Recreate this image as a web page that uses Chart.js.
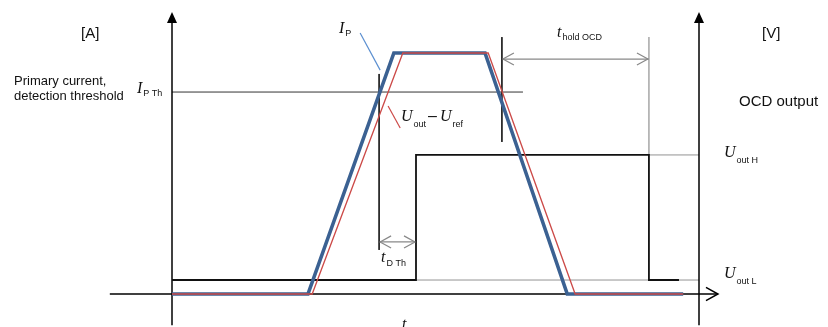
<!DOCTYPE html>
<html>
<head>
<meta charset="utf-8">
<script src="https://cdn.jsdelivr.net/npm/chart.js@4.4.0/dist/chart.umd.min.js"></script>
<style>
  html, body { margin: 0; padding: 0; background: #fff; overflow: hidden; }
  #wrap { width: 828px; height: 327px; }
</style>
</head>
<body>
<div id="wrap"><canvas id="grafica"></canvas></div>
<script>
// time: left axis = 0, right axis = 10 ; amplitude: time axis = 0, I_P peak = 10
const ipTime   = [0, 2.58, 4.21, 5.94, 7.50, 9.70];
const ipValue  = [0, 0, 10, 10, 0, 0];
const uTime    = [0, 2.66, 4.38, 6.00, 7.65, 9.70];
const uValue   = [0, 0, 10, 10, 0, 0];
const ocdTime  = [0, 4.63, 4.63, 9.05, 9.05, 9.62];
const ocdValue = [0.58, 0.58, 5.77, 5.77, 0.58, 0.58];

// characteristic levels / instants
const thresholdLevel = 8.38;   // I_P Th
const outHigh = 5.77;          // U_out H
const outLow = 0.58;           // U_out L
const tThUp = 3.93;            // I_P crosses threshold (rising)
const tThDown = 6.26;          // I_P crosses threshold (falling)
const tSwitch = 4.63;          // OCD output goes high
const tHoldEnd = 9.05;         // OCD output returns low
const tEnd = 10;               // right axis

// se arma la lista de puntos {x, y}
function puntos(xs, ys) {
  return xs.map((x, i) => ({ x: x, y: ys[i] }));
}
function segmento(x1, y1, x2, y2, color, ancho, orden) {
  return {
    data: [{ x: x1, y: y1 }, { x: x2, y: y2 }],
    borderColor: color, borderWidth: ancho, pointRadius: 0,
    order: orden, clip: false
  };
}

const datasets = [
  { data: puntos(uTime, uValue), borderColor: '#cc4a48', borderWidth: 1.3, pointRadius: 0, order: 0, borderJoinStyle: 'miter' },
  { data: puntos(ipTime, ipValue), borderColor: '#3b6192', borderWidth: 3.6, pointRadius: 0, order: 1, borderJoinStyle: 'miter' },
  { data: puntos(ocdTime, ocdValue), borderColor: '#111', borderWidth: 1.8, pointRadius: 0, order: 2, borderJoinStyle: 'miter' },
  // axes
  segmento(0, -1.3, 0, 11.3, '#000', 1.5, 3),
  segmento(tEnd, -1.3, tEnd, 11.3, '#000', 1.5, 3),
  segmento(-1.18, 0, 10.36, 0, '#000', 1.5, 3),
  // guides
  segmento(0, thresholdLevel, 6.66, thresholdLevel, '#333', 1, 4),
  segmento(tThUp, 9.13, tThUp, 1.83, '#222', 1, 4),
  segmento(tThDown, 10.66, tThDown, 6.31, '#222', 1, 4),
  segmento(tHoldEnd, 10.66, tHoldEnd, outHigh, '#999', 1.3, 4),
  segmento(tHoldEnd, outHigh, tEnd, outHigh, '#777', 0.8, 4),
  segmento(tSwitch, outLow, tEnd, outLow, '#777', 0.8, 4),
  segmento(tThDown, 9.75, tHoldEnd, 9.75, '#888', 1.2, 4),
  segmento(tThUp, 2.16, tSwitch, 2.16, '#888', 1.2, 4),
  // leaders
  segmento(3.57, 10.83, 3.95, 9.29, '#5b8fd0', 1.2, 4),
  segmento(4.10, 7.80, 4.33, 6.89, '#cc4a48', 1.2, 4)
];

// texto con subíndices
function textoRico(ctx, x, y, partes) {
  let cx = x;
  partes.forEach(p => {
    ctx.font = p[1];
    ctx.fillText(p[0], cx, y + (p[2] || 0));
    cx += ctx.measureText(p[0]).width + (p[3] || 0);
  });
}

const ITAL = "italic 16px 'Liberation Serif'";
const SUB = "9px 'Liberation Sans'";
const LAB = "15px 'Liberation Sans'";

const decoraciones = {
  id: 'decoraciones',
  afterDatasetsDraw(chart) {
    const ctx = chart.ctx;
    const sx = chart.scales.x, sy = chart.scales.y;
    const px = v => sx.getPixelForValue(v);
    const py = v => sy.getPixelForValue(v);
    ctx.save();

    // flechas rellenas de los ejes verticales
    ctx.fillStyle = '#000';
    [0, tEnd].forEach(t => {
      const x = px(t), y = py(11.7);
      ctx.beginPath();
      ctx.moveTo(x, y);
      ctx.lineTo(x - 5, y + 11);
      ctx.lineTo(x + 5, y + 11);
      ctx.closePath();
      ctx.fill();
    });

    // flechas abiertas
    function chevron(x, y, dir, size, color, width) {
      ctx.strokeStyle = color;
      ctx.lineWidth = width;
      ctx.beginPath();
      ctx.moveTo(x - dir * size, y - size * 0.55);
      ctx.lineTo(x, y);
      ctx.lineTo(x - dir * size, y + size * 0.55);
      ctx.stroke();
    }
    chevron(px(10.36), py(0), 1, 12, '#000', 1.5);
    chevron(px(tThDown) + 1, py(9.75), -1, 11, '#888', 1.2);
    chevron(px(tHoldEnd) - 1, py(9.75), 1, 11, '#888', 1.2);
    chevron(px(tThUp) + 1, py(2.16), -1, 11, '#888', 1.2);
    chevron(px(tSwitch) - 1, py(2.16), 1, 11, '#888', 1.2);

    // textos
    ctx.fillStyle = '#111';
    ctx.textBaseline = 'alphabetic';
    ctx.font = LAB;
    ctx.fillText('[A]', 81, 38);
    ctx.fillText('[V]', 762, 38);
    ctx.fillText('OCD output', 739, 106);
    ctx.font = "13px 'Liberation Sans'";
    ctx.fillText('Primary current,', 14, 85);
    ctx.fillText('detection threshold', 14, 100);

    textoRico(ctx, 137, 93, [['I', ITAL, 0, 1], ['P Th', SUB, 3]]);
    textoRico(ctx, 339, 33, [['I', ITAL, 0, 1], ['P', SUB, 3]]);
    textoRico(ctx, 401, 121, [['U', ITAL, 0, 1], ['out', SUB, 6, 2], ['\u2013', "16px 'Liberation Sans'", 0, 3], ['U', ITAL, 0, 1], ['ref', SUB, 6]]);
    textoRico(ctx, 557, 37, [['t', ITAL, 0, 1], ['hold OCD', SUB, 3]]);
    textoRico(ctx, 724, 157, [['U', ITAL, 0, 1], ['out H', SUB, 6]]);
    textoRico(ctx, 724, 278, [['U', ITAL, 0, 1], ['out L', SUB, 6]]);
    textoRico(ctx, 381, 262, [['t', ITAL, 0, 1], ['D Th', SUB, 4]]);
    textoRico(ctx, 402, 329, [['t', ITAL, 0]]);

    ctx.restore();
  }
};

// rango de escalas: 52.7 px por unidad de tiempo, 24.1 px por unidad de amplitud
const X_MIN = -172 / 52.7, X_MAX = (828 - 172) / 52.7;
const Y_MIN = -(327 - 294) / 24.1, Y_MAX = 294 / 24.1;

new Chart(document.getElementById('grafica').getContext('2d'), {
  type: 'line',
  data: { datasets: datasets },
  options: {
    responsive: true,
    maintainAspectRatio: false,
    animation: false,
    layout: { padding: 0 },
    plugins: { legend: { display: false }, tooltip: { enabled: false }, title: { display: false } },
    scales: {
      x: { type: 'linear', min: X_MIN, max: X_MAX, display: false },
      y: { type: 'linear', min: Y_MIN, max: Y_MAX, display: false }
    }
  },
  plugins: [decoraciones]
});
</script>
</body>
</html>
